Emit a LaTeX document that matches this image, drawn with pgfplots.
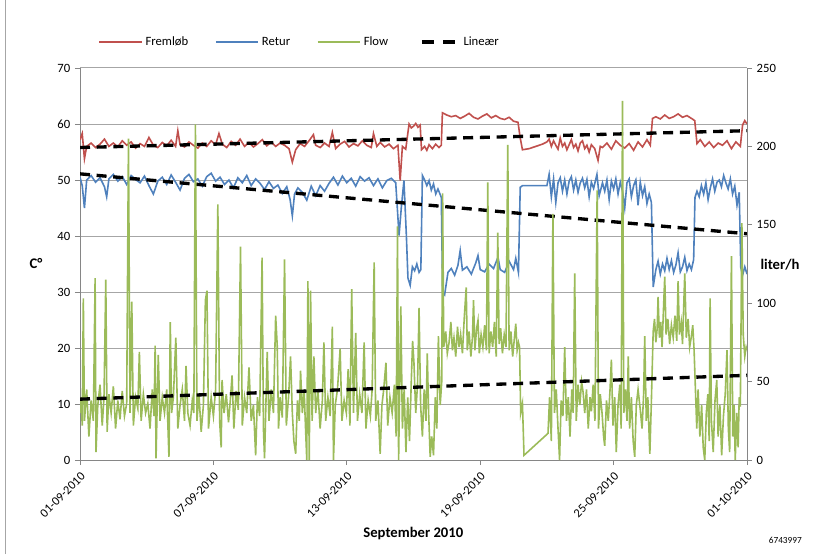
\documentclass[border=0pt]{standalone}
\usepackage{fontspec}
\setmainfont{Carlito}
\usepackage{pgfplots}
\pgfplotsset{compat=1.18}
\usepackage{pgfplotstable}
\definecolor{cred}{HTML}{C0504D}
\definecolor{cblue}{HTML}{4F81BD}
\definecolor{cgreen}{HTML}{9BBB59}
\definecolor{gridc}{HTML}{A6A6A6}
\definecolor{axc}{HTML}{868686}

\pgfplotstableread{
x y
0.0 57.2
0.1 58.3
0.2 53.8
0.3 56.0
0.5 56.6
0.7 55.8
0.9 56.4
1.1 57.3
1.3 56.0
1.5 56.6
1.7 55.9
1.9 57.0
2.1 56.2
2.3 56.8
2.5 55.7
2.7 56.5
2.9 56.0
3.1 57.6
3.3 56.2
3.5 55.8
3.7 56.7
3.9 56.1
4.1 57.1
4.3 56.0
4.4 58.8
4.5 56.3
4.7 55.9
4.9 56.8
5.1 56.2
5.3 55.7
5.5 56.6
5.7 56.0
5.9 57.0
6.1 56.3
6.25 58.3
6.4 56.4
6.6 55.8
6.8 56.9
7.0 56.2
7.2 57.3
7.4 56.0
7.6 56.7
7.8 55.9
8.0 56.5
8.2 57.2
8.4 56.1
8.6 56.8
8.8 56.0
9.0 56.6
9.2 56.2
9.4 55.6
9.55 53.2
9.7 55.4
9.9 56.5
10.1 56.0
10.3 57.0
10.5 58.1
10.6 56.2
10.8 55.8
11.0 56.6
11.2 56.0
11.35 58.5
11.5 55.6
11.7 56.4
11.9 56.9
12.1 55.9
12.3 56.5
12.5 56.1
12.7 57.0
12.9 56.2
13.1 55.8
13.2 58.3
13.35 56.0
13.5 56.7
13.7 55.9
13.9 56.4
14.1 55.6
14.3 56.2
14.4 49.9
14.5 56.0
14.65 55.5
14.8 60.0
14.9 59.3
15.0 59.6
15.1 60.1
15.2 59.4
15.3 59.8
15.36 55.4
15.5 56.0
15.6 55.3
15.7 56.3
15.85 55.6
16.0 56.4
16.15 55.8
16.25 56.2
16.3 62.0
16.5 61.6
16.7 61.3
16.9 61.5
17.1 61.0
17.3 61.4
17.5 61.9
17.7 61.2
17.9 60.9
18.1 61.4
18.3 61.8
18.5 61.1
18.7 61.5
18.9 61.0
19.1 60.8
19.3 61.2
19.5 60.5
19.7 60.3
19.8 57.5
19.9 55.4
20.2 55.6
20.5 56.0
20.8 56.4
21.0 56.8
21.1 57.3
21.2 56.0
21.3 57.0
21.4 56.2
21.5 55.5
21.6 57.5
21.7 56.0
21.8 56.6
21.9 55.4
22.0 56.3
22.1 57.2
22.2 55.8
22.3 56.4
22.4 55.2
22.5 56.6
22.6 57.0
22.7 55.6
22.8 56.2
22.9 55.0
23.0 56.3
23.15 55.6
23.3 53.5
23.4 56.0
23.5 55.8
23.7 56.6
23.9 55.5
24.1 57.0
24.3 56.2
24.5 55.7
24.7 56.5
24.9 55.3
25.1 56.8
25.3 55.9
25.5 57.2
25.65 56.2
25.75 61.0
25.9 61.3
26.1 60.9
26.3 61.6
26.5 61.0
26.7 61.3
26.9 61.8
27.1 61.2
27.3 61.5
27.5 61.0
27.65 60.6
27.75 56.5
27.9 57.2
28.1 56.0
28.3 56.8
28.5 55.8
28.7 56.6
28.9 56.2
29.1 57.0
29.3 55.6
29.5 56.8
29.7 56.0
29.8 59.8
29.9 60.6
30.0 60.0
}\fremlob

\pgfplotstableread{
x y
0.0 50.5
0.1 49.0
0.2 45.0
0.3 50.0
0.5 50.8
0.7 49.6
0.9 50.4
1.1 48.8
1.2 47.0
1.3 50.2
1.5 51.0
1.7 49.8
1.9 50.6
2.1 49.2
2.3 50.8
2.5 50.1
2.7 49.5
2.9 50.7
3.1 49.0
3.3 47.5
3.5 49.8
3.7 50.5
3.9 49.2
4.1 50.9
4.3 49.6
4.5 48.2
4.7 50.3
4.9 51.0
5.1 49.7
5.3 50.2
5.5 48.9
5.7 50.6
5.9 51.2
6.1 49.8
6.3 50.5
6.5 49.2
6.7 50.0
6.9 48.6
7.1 50.4
7.3 49.5
7.5 50.8
7.7 49.0
7.9 50.2
8.1 49.4
8.3 48.3
8.5 49.7
8.7 48.5
8.9 49.1
9.1 47.6
9.3 48.8
9.45 46.5
9.55 43.6
9.65 47.5
9.8 48.6
10.0 47.8
10.2 46.4
10.4 48.9
10.6 47.2
10.8 49.0
11.0 48.0
11.2 49.4
11.4 50.5
11.6 49.1
11.8 50.7
12.0 49.5
12.2 50.3
12.4 48.9
12.6 50.6
12.8 49.8
13.0 50.4
13.2 49.0
13.4 50.2
13.6 48.6
13.8 49.9
14.0 50.3
14.2 49.5
14.35 40.1
14.45 45.0
14.57 49.9
14.68 40.0
14.75 32.5
14.85 31.2
14.95 34.5
15.05 33.8
15.15 35.0
15.25 33.5
15.33 34.0
15.4 50.8
15.5 50.0
15.6 49.0
15.7 49.9
15.8 48.2
15.9 49.3
16.0 47.5
16.1 48.4
16.25 46.9
16.31 30.0
16.4 29.5
16.55 33.5
16.7 34.2
16.85 33.0
17.0 34.8
17.1 37.4
17.2 33.9
17.4 34.5
17.6 33.2
17.8 35.2
17.9 36.5
18.0 34.0
18.2 33.6
18.4 35.0
18.6 34.2
18.8 36.2
18.9 34.0
19.1 33.5
19.3 35.5
19.5 34.0
19.6 36.0
19.72 33.5
19.8 48.7
19.9 49.0
21.0 49.0
21.1 51.0
21.2 47.0
21.3 50.2
21.4 46.0
21.5 49.5
21.6 50.4
21.7 48.0
21.8 50.0
21.9 47.5
22.0 49.8
22.1 50.6
22.2 48.2
22.3 50.0
22.4 47.8
22.5 49.5
22.6 50.3
22.7 48.6
22.8 50.1
22.9 47.0
23.0 49.6
23.1 48.5
23.25 51.0
23.35 47.2
23.5 49.5
23.6 48.0
23.7 50.0
23.8 46.5
23.9 49.8
24.0 48.4
24.1 50.2
24.2 47.5
24.3 49.6
24.4 48.0
24.5 45.0
24.6 49.5
24.7 50.2
24.8 47.0
24.9 49.0
25.0 50.0
25.1 45.5
25.2 49.6
25.3 47.2
25.4 48.8
25.5 45.8
25.6 47.5
25.7 46.0
25.78 30.9
25.9 34.0
26.0 35.5
26.1 33.2
26.2 35.0
26.3 33.8
26.4 36.0
26.5 34.0
26.6 35.6
26.7 33.5
26.8 34.8
26.9 37.0
27.0 33.6
27.1 34.5
27.2 36.2
27.3 33.8
27.4 35.0
27.5 34.0
27.6 35.8
27.66 46.9
27.75 48.0
27.85 47.0
27.95 49.0
28.05 47.5
28.15 49.5
28.25 46.5
28.35 48.6
28.45 50.2
28.55 48.0
28.65 49.6
28.75 50.0
28.85 48.8
28.95 50.8
29.05 49.5
29.15 48.4
29.25 50.2
29.35 47.5
29.45 48.9
29.55 45.5
29.65 47.8
29.72 34.4
29.8 33.0
29.9 34.5
30.0 33.2
}\retur

\pgfplotstableread{
x y
0.00 30
0.05 40
0.10 22
0.15 103
0.20 25
0.30 45
0.40 15
0.50 38
0.60 25
0.68 116
0.72 5
0.80 35
0.90 48
1.00 22
1.08 40
1.16 115
1.22 18
1.30 42
1.40 30
1.50 47
1.60 20
1.70 38
1.80 26
1.90 44
2.00 28
2.10 36
2.18 205
2.25 30
2.33 101
2.40 22
2.50 40
2.60 33
2.67 69
2.75 25
2.85 42
2.95 30
3.05 36
3.15 20
3.25 45
3.33 28
3.38 73
3.42 1
3.52 67
3.60 25
3.70 40
3.80 30
3.90 45
4.00 2
4.06 88
4.12 30
4.20 40
4.31 78
4.40 20
4.50 35
4.60 45
4.70 25
4.77 60
4.85 30
4.95 22
5.05 38
5.12 30
5.19 214
5.26 25
5.35 42
5.45 18
5.55 35
5.64 102
5.71 108
5.78 20
5.90 40
6.00 28
6.10 45
6.20 163
6.28 25
6.35 8
6.39 51
6.48 30
6.58 42
6.68 24
6.76 38
6.84 54
6.92 20
7.02 44
7.12 32
7.22 136
7.30 22
7.40 40
7.50 30
7.60 59
7.70 25
7.80 35
7.90 3
7.98 40
8.08 28
8.19 129
8.25 20
8.30 1
8.36 35
8.42 69
8.50 25
8.60 45
8.70 30
8.80 92
8.87 73
8.93 20
9.00 40
9.10 27
9.20 128
9.28 22
9.38 40
9.47 66
9.55 30
9.62 12
9.70 4
9.78 38
9.86 25
9.92 57
10.00 30
10.08 45
10.15 18
10.20 0
10.25 114
10.31 0
10.37 108
10.44 25
10.52 66
10.60 30
10.70 45
10.80 20
10.90 38
10.97 75
11.05 25
11.15 40
11.25 28
11.35 85
11.40 0
11.48 35
11.58 45
11.70 71
11.78 25
11.88 38
11.98 30
12.06 58
12.14 22
12.22 109
12.30 30
12.40 81
12.48 25
12.58 42
12.68 30
12.78 75
12.86 20
12.96 38
13.06 28
13.14 45
13.23 126
13.30 25
13.40 38
13.50 4
13.58 35
13.66 45
13.76 62
13.84 22
13.94 40
14.04 30
14.14 48
14.22 15
14.28 149
14.33 0
14.43 98
14.50 20
14.58 45
14.66 5
14.74 40
14.82 12
14.90 50
14.96 76
15.02 62
15.10 30
15.18 48
15.25 97
15.32 35
15.40 15
15.48 45
15.56 25
15.62 68
15.68 30
15.75 2
15.82 15
15.90 3
15.98 40
16.05 20
16.12 79
16.20 35
16.27 50
16.31 170
16.36 72
16.45 82
16.52 68
16.60 75
16.68 88
16.75 70
16.82 78
16.90 66
16.98 85
17.05 72
17.12 80
17.20 68
17.28 90
17.37 110
17.42 70
17.50 82
17.58 66
17.65 78
17.70 102
17.76 70
17.84 84
17.90 89
17.96 68
18.04 80
18.12 72
18.20 86
18.28 70
18.34 177
18.40 68
18.48 82
18.56 72
18.64 88
18.72 66
18.79 145
18.85 74
18.92 84
19.00 68
19.08 80
19.16 72
19.24 201
19.30 70
19.38 82
19.46 66
19.54 78
19.60 87
19.66 70
19.72 75
19.77 72
19.82 30
19.90 36
19.97 3
21.05 17
21.12 40
21.20 12
21.27 157
21.34 30
21.42 45
21.50 20
21.57 0
21.64 38
21.72 28
21.80 72
21.88 25
21.96 40
22.04 15
22.12 45
22.18 30
22.25 119
22.32 25
22.40 48
22.48 35
22.56 50
22.63 43
22.70 30
22.78 45
22.86 20
22.94 40
23.00 31
23.08 48
23.16 25
23.26 172
23.32 20
23.40 42
23.48 30
23.55 15
23.60 9
23.68 38
23.76 25
23.84 45
23.90 64
23.97 22
24.05 40
24.12 5
24.20 35
24.28 48
24.34 20
24.40 229
24.46 30
24.54 45
24.60 25
24.66 66
24.72 20
24.80 40
24.88 12
24.95 2
25.02 35
25.10 45
25.20 32
25.28 20
25.35 42
25.40 79
25.47 25
25.54 40
25.60 15
25.63 4
25.70 38
25.78 82
25.84 90
25.90 75
25.96 84
26.00 104
26.06 78
26.12 88
26.18 72
26.24 95
26.30 117
26.36 80
26.44 90
26.52 74
26.60 86
26.68 78
26.76 92
26.84 76
26.90 114
26.96 80
27.04 88
27.10 74
27.20 119
27.27 78
27.35 90
27.42 72
27.50 79
27.56 86
27.62 70
27.68 45
27.74 20
27.80 45
27.88 15
27.96 35
28.03 8
28.10 0
28.17 30
28.24 42
28.30 12
28.34 103
28.40 25
28.48 5
28.56 38
28.64 51
28.70 15
28.78 35
28.86 3
28.94 28
29.02 42
29.10 70
29.16 20
29.22 5
29.30 130
29.36 15
29.42 35
29.47 0
29.54 30
29.60 8
29.65 40
29.70 34
29.77 151
29.83 80
29.90 66
29.96 72
30.00 70
}\flow

\begin{document}
\begin{tikzpicture}
\useasboundingbox (0,0) rectangle (617.25pt,415.5pt);
\draw[gray!70, line width=0.75pt] (3.75pt,0) -- (3.75pt,415.5pt);
\pgfplotsset{
  every axis/.append style={
    at={(60pt,70.5pt)}, anchor=south west,
    scale only axis, width=500.25pt, height=294pt,
    xmin=0, xmax=30,
    tick align=outside,
    major tick length=3.75pt,
    tick style={axc, line width=0.6pt},
    axis line style={axc, line width=0.75pt},
    ticklabel style={font=\fontsize{9.5}{11}\selectfont},
    /pgf/number format/assume math mode=true,
  },
  legend image code/.code={\draw[#1] (0pt,0pt) -- (32pt,0pt);},
}
\begin{axis}[
  axis x line*=bottom, axis y line*=left,
  ymin=0, ymax=70, ytick={0,10,...,70},
  xtick={0,6,12,18,24,30},
  xticklabels={01-09-2010,07-09-2010,13-09-2010,19-09-2010,25-09-2010,01-10-2010},
  xticklabel style={rotate=45, anchor=north east, font=\fontsize{9.3}{10}\selectfont},
  ymajorgrids, grid style={gridc, line width=0.75pt},
  legend style={at={(0.33,1.066)}, anchor=center, draw=none, fill=none,
    legend columns=4, font=\fontsize{9.5}{11}\selectfont,
    /tikz/every even column/.append style={column sep=18pt},
    legend cell align=left},
]
\addplot[cred, line width=1.2pt] table[x=x,y=y]{\fremlob};
\addplot[cblue, line width=1.2pt] table[x=x,y=y]{\retur};
\addlegendimage{cgreen, line width=1.2pt}
\addlegendimage{black, line width=2.5pt, dash pattern=on 9pt off 7pt, dash phase=12pt}
\addplot[black, line width=2.5pt, dash pattern=on 7.5pt off 5pt, forget plot] coordinates {(0,55.8) (30,58.8)};
\addplot[black, line width=2.5pt, dash pattern=on 7.5pt off 5pt, forget plot] coordinates {(0,51.1) (30,40.4)};
\legend{Fremløb, Retur, Flow, Lineær}
\end{axis}
\begin{axis}[
  axis y line*=right, axis x line=none,
  ymin=0, ymax=250, ytick={0,50,...,250},
]
\addplot[cgreen, line width=1.2pt] table[x=x,y=y]{\flow};
\addplot[black, line width=2.5pt, dash pattern=on 7.5pt off 5pt] coordinates {(0,38.8) (30,54.0)};
\end{axis}
\node[font=\bfseries\fontsize{11}{13}\selectfont] at (27pt,218pt) {C°};
\node[font=\bfseries\fontsize{11}{13}\selectfont] at (585pt,217pt) {liter/h};
\node[font=\bfseries\fontsize{11}{13}\selectfont] at (310pt,15.5pt) {September 2010};
\node[font=\fontsize{7}{8}\selectfont] at (589pt,10.5pt) {6743997};
\end{tikzpicture}
\end{document}
